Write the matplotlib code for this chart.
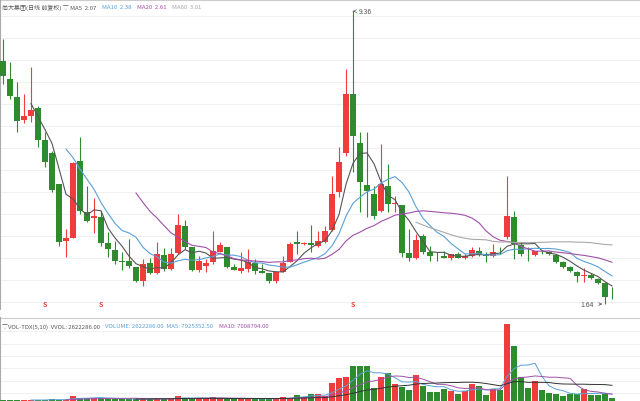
import matplotlib
matplotlib.use("Agg")
import matplotlib.pyplot as plt
import numpy as np
import pandas as pd

plt.rcParams['font.family'] = ['Noto Sans CJK SC', 'DejaVu Sans']

opens = [8.05,7.57,7.10,6.49,6.60,6.81,5.97,5.62,4.81,3.30,3.38,5.41,4.07,3.91,3.94,3.25,3.07,2.78,2.78,2.62,
         2.25,2.72,2.46,2.93,2.57,2.99,3.70,3.15,2.54,2.64,2.75,3.01,3.15,2.62,2.51,2.57,2.72,2.51,2.46,2.25,
         2.49,2.75,3.28,3.22,3.25,3.17,3.28,3.59,4.59,5.62,7.18,5.89,4.78,4.54,4.09,4.75,4.28,4.25,2.99,2.86,
         3.44,3.01,2.91,2.91,2.86,2.96,2.86,2.91,3.04,2.96,2.91,3.01,3.41,3.94,3.20,3.01,2.93,3.01,3.01,2.93,
         2.75,2.62,2.49,2.38,2.41,2.30,2.20,1.83]
highs = [8.62,8.02,7.49,7.18,7.89,6.86,6.18,5.68,4.81,3.62,5.39,6.04,4.75,4.44,4.09,3.54,3.30,3.01,3.36,2.62,
         2.83,2.86,3.28,3.12,3.12,4.02,3.86,3.15,2.91,2.83,3.57,3.28,3.15,2.70,3.01,3.09,2.83,2.70,2.46,2.49,
         2.91,3.28,3.57,3.28,3.73,3.57,3.70,5.02,5.78,7.84,9.36,6.18,6.18,4.75,5.86,5.33,4.49,4.25,3.62,3.49,
         3.49,3.17,3.01,3.04,2.96,3.00,2.96,3.15,3.15,3.00,3.22,3.15,5.02,4.09,3.28,3.15,3.05,3.06,3.03,2.95,
         2.77,2.64,2.52,2.59,2.46,2.33,2.22,2.09]
lows = [7.44,7.05,6.18,6.41,6.44,5.78,5.25,4.59,3.17,2.88,3.38,4.02,3.80,3.51,3.17,2.88,2.70,2.54,2.59,2.22,
        2.12,2.43,2.43,2.51,2.55,2.96,3.09,2.51,2.49,2.49,2.70,3.00,2.59,2.54,2.46,2.49,2.43,2.46,2.20,2.20,
        2.49,2.75,2.96,3.20,3.01,3.15,3.25,3.57,4.46,5.54,5.12,4.07,3.94,3.88,4.07,4.07,4.07,2.88,2.78,2.83,
        2.96,2.78,2.78,2.85,2.81,2.86,2.84,2.88,2.90,2.75,2.88,2.95,3.36,2.83,2.91,2.78,2.90,2.96,2.94,2.72,
        2.60,2.49,2.22,2.22,2.30,2.18,1.64,1.78]
closes = [7.65,7.12,6.47,6.60,6.76,5.97,5.39,4.65,3.28,3.38,5.36,4.09,3.83,3.96,3.25,3.09,2.78,2.76,2.64,2.25,
          2.70,2.46,2.96,2.57,2.96,3.73,3.15,2.54,2.78,2.72,3.04,3.20,2.62,2.54,2.59,2.75,2.51,2.46,2.25,2.49,
          2.72,3.22,3.22,3.25,3.20,3.30,3.57,4.54,5.39,7.18,6.07,4.86,4.62,3.96,4.81,4.28,4.28,2.99,2.86,3.33,
          3.01,2.91,2.90,2.86,2.96,2.86,2.91,3.07,2.93,2.91,3.01,3.00,3.96,3.22,2.96,3.00,3.04,3.00,2.96,2.75,
          2.62,2.51,2.38,2.41,2.33,2.20,1.83,1.82]
volumes = [0.7,1.0,0.7,1.0,1.3,1.0,1.0,2.0,1.3,1.3,5.0,3.3,2.6,3.3,2.6,2.6,2.0,1.7,2.0,1.7,
           2.0,1.7,3.3,2.0,2.0,4.6,3.0,2.3,2.6,2.0,4.0,3.0,2.0,1.7,2.0,3.3,2.0,1.7,1.7,2.6,
           4.0,3.3,5.9,4.3,7.3,6.6,4.6,17.2,22.4,23.1,33.7,34.3,34.0,12.5,23.1,27.7,16.5,13.9,10.9,25.7,
           14.5,9.2,9.2,11.6,10.2,7.3,9.9,16.5,14.9,5.9,11.9,11.2,75.2,53.5,23.1,12.5,19.8,10.9,7.9,6.6,
           5.0,7.3,6.6,11.9,5.6,6.3,7.3,2.6]
s_marks = [6, 14, 50]

RED, GREEN = '#f03c3c', '#2e8b2e'
n = len(closes)
x = np.arange(n)
c = pd.Series(closes)
mas = [(5, '#555555'), (10, '#5aa0d8'), (20, '#a050a8'), (60, '#a8a8a8')]

fig = plt.figure(figsize=(6.4, 4.02), dpi=100)
ax = fig.add_axes([0, 92/402, 1, 310/402])
axv = fig.add_axes([0, 0, 1, 84/402])

for a in (ax, axv):
    a.set_xlim(-0.43, 91)
    a.set_xticks([])
    a.tick_params(left=False, labelleft=False)
    for s in ['top', 'right', 'bottom']:
        a.spines[s].set_visible(False)
    a.spines['left'].set_color('#aaaaaa')

ax.set_ylim(1.51, 9.68)
for yy in np.arange(1.7, 9.68, 0.58):
    ax.axhline(yy, color='#f0f0f0', lw=0.8, zorder=0)
ax.axhline(9.65, color='#cccccc', lw=0.8)

for i in range(n):
    up = closes[i] >= opens[i]
    col = RED if up else GREEN
    ax.vlines(x[i], lows[i], highs[i], color=col, lw=0.8, zorder=2)
    lo, hi = min(opens[i], closes[i]), max(opens[i], closes[i])
    h = max(hi - lo, 0.012)
    ax.bar(x[i], h, bottom=lo, width=0.72, color=col, zorder=3)

for w, col in mas:
    ax.plot(x, c.rolling(w).mean(), color=col, lw=0.8, zorder=4)

imax = int(np.argmax(highs)); imin = int(np.argmin(lows))
ax.annotate(f'{highs[imax]:.2f}', xy=(imax, highs[imax]), xytext=(imax + 0.8, highs[imax]),
            fontsize=5, color='#555555', va='center',
            arrowprops=dict(arrowstyle='->', color='#555555', lw=0.5))
ax.annotate(f'{lows[imin]:.2f}', xy=(imin, lows[imin]), xytext=(imin - 3.5, lows[imin]),
            fontsize=5, color='#555555', va='center',
            arrowprops=dict(arrowstyle='->', color='#555555', lw=0.5))
for i in s_marks:
    ax.text(i, 1.55, 'S', color=RED, fontsize=5, ha='center', va='bottom', fontweight='bold')

fs = 4.3
def chain(a, y, parts):
    t = a.text(0.003, y, parts[0][0], transform=a.transAxes, fontsize=fs, color=parts[0][1], va='top')
    for s, col in parts[1:]:
        t = a.annotate(s, xy=(1, 1), xycoords=t, xytext=(4, 0), textcoords='offset points',
                       fontsize=fs, color=col, va='top', ha='left')

chain(ax, 0.985, [('尚大集团(日线 前复权) ▽ MA5  2.07', '#555555'), ('MA10  2.38', '#5aa0d8'),
                  ('MA20  2.61', '#a050a8'), ('MA60  3.01', '#a8a8a8')])

vcols = [RED if closes[i] >= opens[i] else GREEN for i in range(n)]
axv.bar(x, volumes, width=0.72, color=vcols, zorder=3)
v = pd.Series(volumes)
axv.plot(x, v.rolling(5).mean(), color='#5aa0d8', lw=0.7, zorder=4)
axv.plot(x, v.rolling(10).mean(), color='#a050a8', lw=0.7, zorder=4)
axv.plot(x, v.rolling(20).mean(), color='#333333', lw=0.7, zorder=4)
axv.set_ylim(0, 82)
for yy in np.arange(8, 80, 12):
    axv.axhline(yy, color='#f0f0f0', lw=0.8, zorder=0)
axv.axhline(81.5, color='#cccccc', lw=0.8)
chain(axv, 0.93, [('▽VOL-TDX(5,10)  VVOL: 2622286.00', '#555555'),
                  ('VOLUME: 2622286.00  MA5: 7925352.50', '#5aa0d8'), ('MA10: 7008794.00', '#a050a8')])

fig.savefig('out.png', dpi=100)
